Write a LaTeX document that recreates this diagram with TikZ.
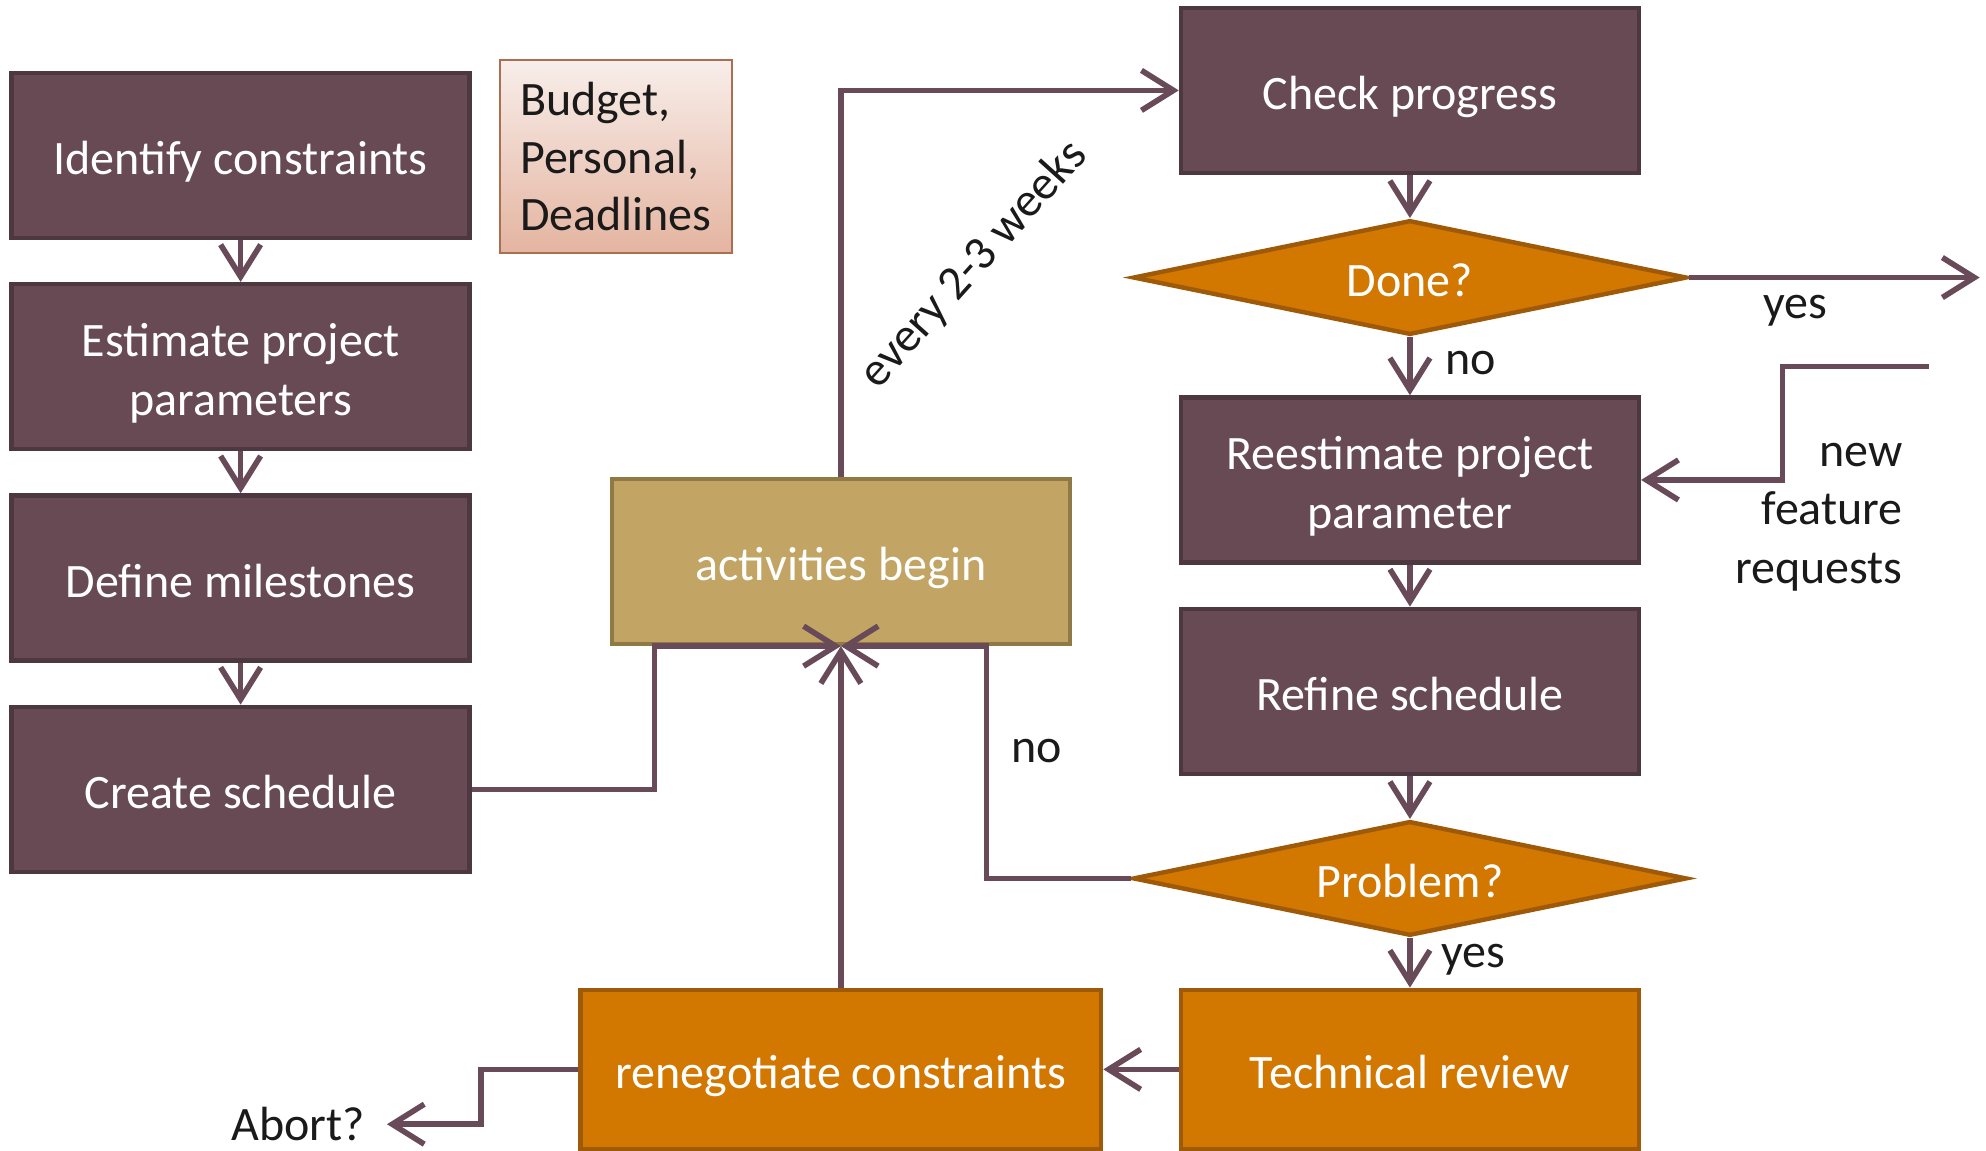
\documentclass[tikz,border=0pt]{standalone}
\usepackage{fontspec}
\setmainfont{Carlito}
\usetikzlibrary{arrows.meta,shapes.geometric}
\definecolor{boxfill}{RGB}{104,74,84}
\definecolor{boxdraw}{RGB}{78,56,64}
\definecolor{orfill}{RGB}{210,119,0}
\definecolor{ordraw}{RGB}{158,90,8}
\definecolor{tanfill}{RGB}{194,165,100}
\definecolor{tandraw}{RGB}{143,122,70}
\definecolor{linec}{RGB}{104,74,88}
\definecolor{budtop}{RGB}{248,238,234}
\definecolor{budbot}{RGB}{228,180,160}
\definecolor{buddraw}{RGB}{170,110,80}
\definecolor{labc}{RGB}{26,26,26}
\begin{document}
\begin{tikzpicture}[x=0.6365pt,y=-0.6365pt,
  font=\fontsize{24}{29.3}\selectfont,
  box/.style={rectangle,fill=boxfill,draw=boxdraw,line width=2.2pt,text=white,align=center,
    minimum width=229pt,minimum height=82.5pt,inner sep=0pt,
    text height=22.8pt,text depth=3.6pt},
  twoline/.style={text height=52pt,text depth=3.6pt},
  obox/.style={box,fill=orfill,draw=ordraw,minimum height=79.6pt},
  tbox/.style={box,fill=tanfill,draw=tandraw},
  dia/.style={diamond,aspect=4.83,fill=orfill,draw=ordraw,line width=2.2pt,text=white,
    minimum width=277pt,minimum height=57.3pt,inner sep=0pt,
    text height=22.8pt,text depth=3.6pt},
  budget/.style={rectangle,top color=budtop,bottom color=budbot,draw=buddraw,line width=1pt,
    minimum width=115.8pt,minimum height=96.7pt,text width=96pt,align=left,inner sep=0pt,
    font=\fontsize{24}{28.6}\selectfont,text=labc},
  conn/.style={draw=linec,line width=2.8pt},
  arr/.style={conn,-{Straight Barb[length=16pt,width=20pt]}},
  lab/.style={text=labc,inner sep=2pt},
]
\useasboundingbox (0,0) rectangle (1560,903.4);

% left column
\node[box] (ic) at (189,122) {Identify constraints};
\node[box,twoline] (ep) at (189,288) {Estimate project\\parameters};
\node[box] (dm) at (189,454) {Define milestones};
\node[box] (cs) at (189,620) {Create schedule};
\node[budget] (bud) at (484,123) {Budget,\\Personal,\\Deadlines};

% middle
\node[tbox] (act) at (660.5,441) {activities begin};
\node[obox,minimum width=260.3pt] (rn) at (660.5,840) {renegotiate constraints};

% right column
\node[box] (cp) at (1107.5,71) {Check progress};
\node[dia] (done) at (1107.5,218) {Done?};
\node[box,twoline] (re) at (1107.5,377) {Reestimate project\\parameter};
\node[box] (rs) at (1107.5,543) {Refine schedule};
\node[dia] (prob) at (1107.5,690) {Problem?};
\node[obox] (tr) at (1107.5,840) {Technical review};

% labels
\node[lab] (lyes1) at (1410,244) {yes};
\node[lab] (lno1) at (1155,285) {no};
\node[lab,align=right,anchor=east] (lnew) at (1498,406) {new\\feature\\requests};
\node[lab] (lno2) at (814,590) {no};
\node[lab] (lyes2) at (1157,754) {yes};
\node[lab,inner ysep=0pt,inner xsep=11pt,anchor=base] (abort) at (234,896) {Abort?};
\node[lab,rotate=48] (lweeks) at (765,208) {every 2-3 weeks};

\coordinate (yesend) at (1555,218);
\coordinate (nfstart) at (1515,288);

% connectors
\draw[arr] (ic.south) -- (ep.north);
\draw[arr] (ep.south) -- (dm.north);
\draw[arr] (dm.south) -- (cs.north);
\draw[arr] (cs.east) -- (514,620) |- (act.south);
\draw[arr] (prob.west) -- (775,690) |- (act.south);
\draw[arr] (rn.north) -- (act.south);
\draw[arr] (act.north) |- (cp.west);
\draw[arr] (cp.south) -- (done.north);
\draw[arr] (done.east) -- (yesend);
\draw[arr] (done.south) -- (re.north);
\draw[arr] (nfstart) -- (1400,288) |- (re.east);
\draw[arr] (re.south) -- (rs.north);
\draw[arr] (rs.south) -- (prob.north);
\draw[arr] (prob.south) -- (tr.north);
\draw[arr] (tr.west) -- (rn.east);
\draw[arr] (rn.west) -- (378,840) |- (abort.east);
\end{tikzpicture}
\end{document}
